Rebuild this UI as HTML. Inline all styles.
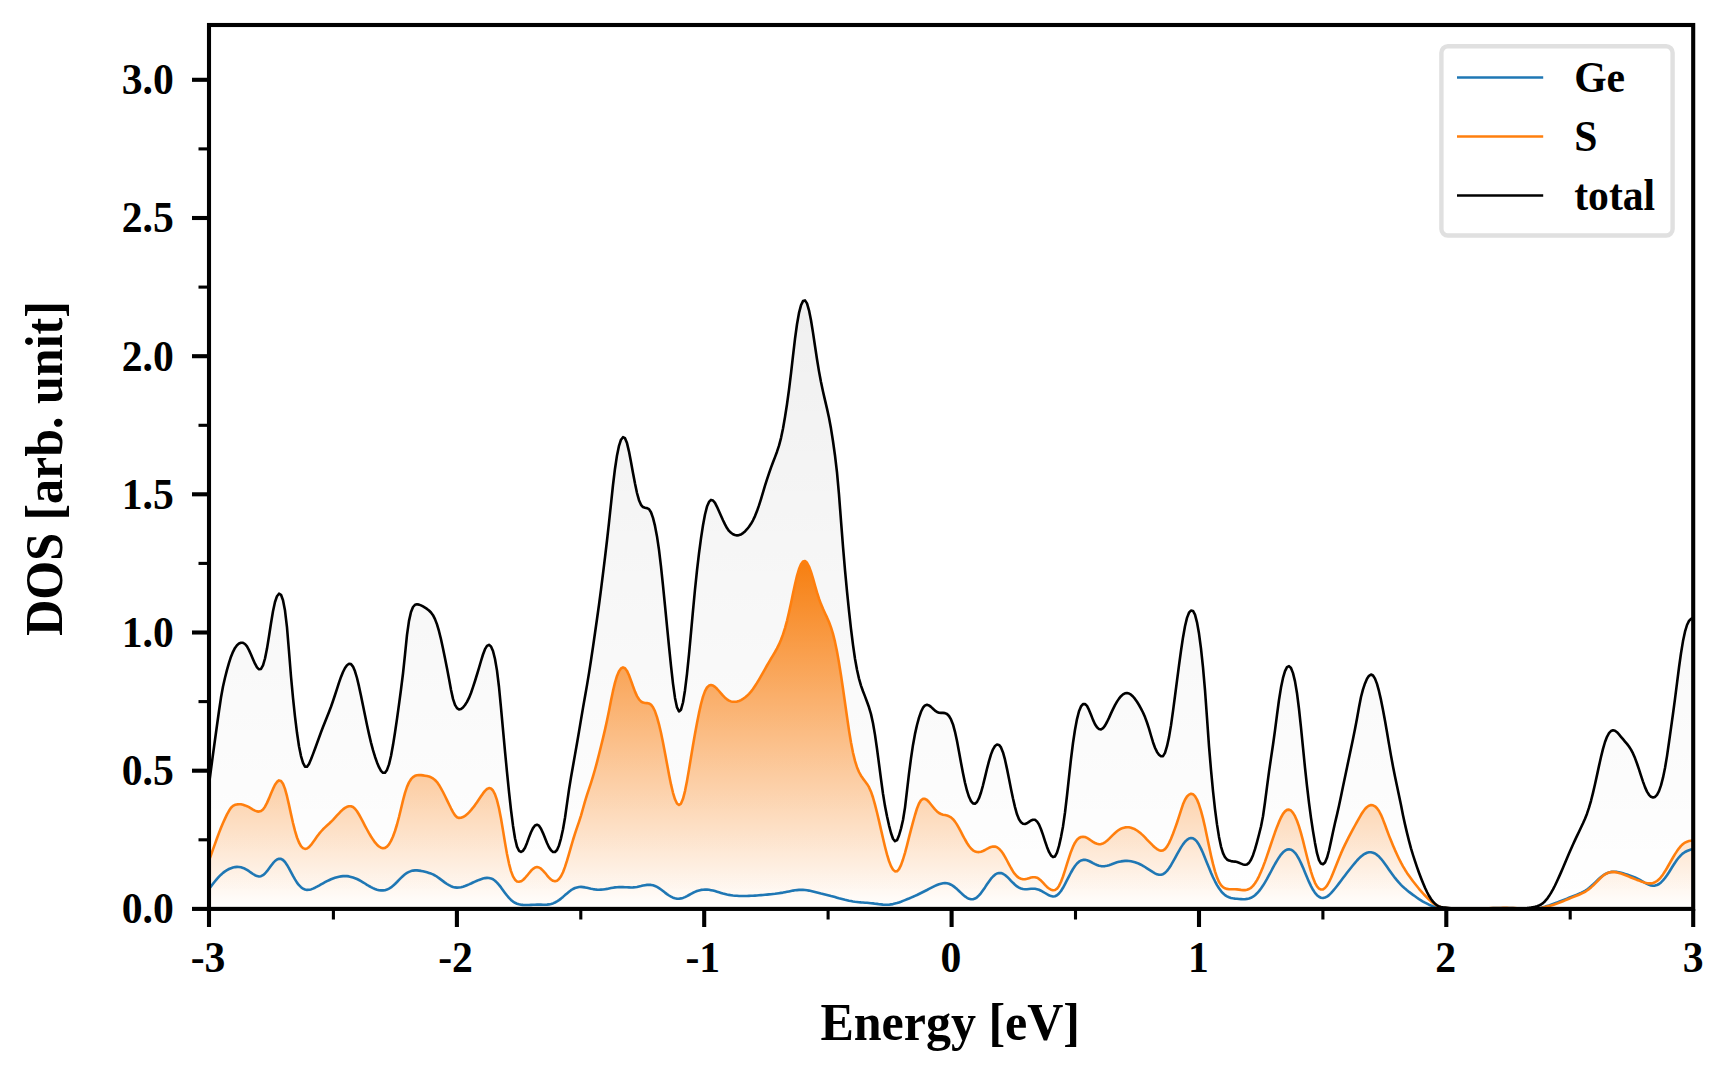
<!DOCTYPE html>
<html lang="en"><head><meta charset="utf-8"><title>DOS</title>
<style>html,body{margin:0;padding:0;background:#fff;overflow:hidden}svg{display:block}</style></head>
<body>
<svg width="1728" height="1080" viewBox="0 0 1728 1080">
<defs>
<linearGradient id="gt" gradientUnits="userSpaceOnUse" x1="0" y1="300" x2="0" y2="909"><stop offset="0" stop-color="#000" stop-opacity="0.06"/><stop offset="1" stop-color="#000" stop-opacity="0"/></linearGradient>
<linearGradient id="gs" gradientUnits="userSpaceOnUse" x1="0" y1="561" x2="0" y2="909"><stop offset="0" stop-color="#f77f10" stop-opacity="1"/><stop offset="1" stop-color="#ff7f0e" stop-opacity="0"/></linearGradient>
<clipPath id="ax"><rect x="209" y="25" width="1484.2" height="883.9"/></clipPath>
</defs>
<rect width="1728" height="1080" fill="#fff"/>
<g clip-path="url(#ax)">
<path d="M209.0,784.4 L211.0,769.4 L213.0,754.4 L215.0,739.8 L217.0,725.3 L219.0,711.0 L221.0,697.6 L223.0,686.5 L225.0,677.7 L227.0,669.9 L229.0,662.8 L231.0,656.7 L233.0,651.8 L235.0,647.9 L237.0,645.2 L239.0,643.5 L241.0,642.7 L243.0,642.8 L245.0,644.0 L247.0,646.4 L249.0,650.1 L251.0,654.5 L253.0,659.2 L255.0,663.7 L257.0,667.3 L259.0,669.3 L261.0,668.9 L263.0,665.4 L265.0,658.5 L267.0,648.6 L269.0,636.2 L271.0,623.2 L273.0,611.3 L275.0,602.0 L277.0,596.2 L279.0,593.7 L281.0,594.8 L283.0,600.2 L285.0,610.6 L287.0,627.4 L289.0,651.5 L291.0,676.5 L293.0,697.9 L295.0,716.6 L297.0,732.8 L299.0,746.2 L301.0,756.1 L303.0,762.8 L305.0,766.6 L307.0,766.8 L309.0,763.9 L311.0,759.3 L313.0,754.1 L315.0,748.7 L317.0,743.2 L319.0,737.7 L321.0,732.2 L323.0,727.0 L325.0,722.0 L327.0,717.1 L329.0,712.0 L331.0,706.7 L333.0,701.0 L335.0,695.0 L337.0,688.8 L339.0,682.6 L341.0,676.9 L343.0,672.0 L345.0,668.0 L347.0,665.2 L349.0,663.8 L351.0,664.1 L353.0,666.6 L355.0,671.3 L357.0,678.0 L359.0,686.4 L361.0,695.8 L363.0,705.6 L365.0,715.3 L367.0,724.9 L369.0,734.1 L371.0,742.6 L373.0,750.2 L375.0,756.7 L377.0,762.4 L379.0,767.2 L381.0,770.8 L383.0,772.8 L385.0,772.7 L387.0,769.9 L389.0,764.4 L391.0,756.0 L393.0,745.1 L395.0,732.5 L397.0,718.9 L399.0,704.4 L401.0,689.5 L403.0,673.5 L405.0,654.6 L407.0,634.9 L409.0,620.9 L411.0,612.0 L413.0,607.0 L415.0,604.8 L417.0,604.3 L419.0,604.6 L421.0,605.4 L423.0,606.4 L425.0,607.6 L427.0,608.9 L429.0,610.5 L431.0,612.5 L433.0,615.2 L435.0,619.1 L437.0,624.4 L439.0,631.2 L441.0,639.3 L443.0,648.5 L445.0,658.2 L447.0,668.2 L449.0,678.8 L451.0,689.8 L453.0,698.9 L455.0,704.8 L457.0,708.1 L459.0,709.5 L461.0,709.1 L463.0,707.5 L465.0,705.0 L467.0,701.9 L469.0,697.9 L471.0,693.0 L473.0,687.2 L475.0,681.0 L477.0,674.5 L479.0,667.8 L481.0,661.0 L483.0,654.5 L485.0,649.2 L487.0,645.9 L489.0,644.8 L491.0,646.4 L493.0,651.0 L495.0,659.0 L497.0,670.6 L499.0,687.0 L501.0,707.9 L503.0,729.7 L505.0,751.3 L507.0,772.1 L509.0,791.8 L511.0,810.0 L513.0,825.7 L515.0,838.2 L517.0,846.6 L519.0,850.8 L521.0,851.9 L523.0,850.8 L525.0,847.7 L527.0,842.9 L529.0,837.4 L531.0,832.2 L533.0,828.1 L535.0,825.5 L537.0,824.7 L539.0,825.7 L541.0,828.7 L543.0,833.1 L545.0,838.1 L547.0,843.0 L549.0,847.2 L551.0,850.3 L553.0,851.9 L555.0,852.0 L557.0,850.0 L559.0,845.4 L561.0,838.3 L563.0,829.2 L565.0,817.7 L567.0,803.6 L569.0,789.6 L571.0,777.4 L573.0,766.0 L575.0,754.6 L577.0,743.2 L579.0,731.6 L581.0,719.6 L583.0,707.9 L585.0,696.5 L587.0,685.1 L589.0,673.1 L591.0,660.3 L593.0,646.9 L595.0,633.0 L597.0,619.0 L599.0,604.7 L601.0,589.6 L603.0,573.7 L605.0,557.3 L607.0,540.5 L609.0,522.7 L611.0,503.8 L613.0,485.0 L615.0,468.7 L617.0,455.4 L619.0,445.8 L621.0,439.7 L623.0,437.2 L625.0,438.2 L627.0,443.1 L629.0,451.6 L631.0,462.0 L633.0,473.0 L635.0,483.6 L637.0,493.0 L639.0,500.2 L641.0,504.8 L643.0,507.1 L645.0,507.8 L647.0,508.1 L649.0,509.1 L651.0,512.2 L653.0,517.9 L655.0,525.9 L657.0,536.4 L659.0,549.9 L661.0,566.7 L663.0,585.6 L665.0,605.6 L667.0,626.1 L669.0,646.3 L671.0,665.9 L673.0,683.6 L675.0,697.9 L677.0,707.4 L679.0,711.4 L681.0,709.7 L683.0,702.5 L685.0,690.2 L687.0,673.9 L689.0,654.4 L691.0,632.7 L693.0,610.6 L695.0,589.5 L697.0,570.3 L699.0,553.3 L701.0,538.3 L703.0,525.2 L705.0,514.5 L707.0,506.6 L709.0,501.9 L711.0,499.9 L713.0,500.5 L715.0,502.9 L717.0,506.8 L719.0,511.2 L721.0,515.7 L723.0,520.2 L725.0,524.4 L727.0,528.1 L729.0,530.9 L731.0,532.8 L733.0,534.2 L735.0,535.0 L737.0,535.4 L739.0,535.1 L741.0,534.4 L743.0,533.1 L745.0,531.4 L747.0,529.2 L749.0,526.7 L751.0,523.8 L753.0,520.3 L755.0,516.1 L757.0,511.1 L759.0,505.4 L761.0,499.1 L763.0,492.4 L765.0,485.7 L767.0,479.3 L769.0,473.3 L771.0,467.6 L773.0,462.3 L775.0,457.1 L777.0,451.7 L779.0,445.7 L781.0,438.1 L783.0,428.4 L785.0,417.1 L787.0,404.3 L789.0,389.8 L791.0,373.4 L793.0,355.9 L795.0,338.9 L797.0,324.2 L799.0,312.9 L801.0,305.3 L803.0,301.1 L805.0,300.4 L807.0,303.4 L809.0,310.3 L811.0,320.3 L813.0,332.6 L815.0,346.0 L817.0,359.3 L819.0,371.4 L821.0,382.1 L823.0,391.5 L825.0,400.1 L827.0,408.6 L829.0,417.8 L831.0,428.6 L833.0,441.2 L835.0,455.5 L837.0,472.4 L839.0,494.6 L841.0,520.8 L843.0,546.6 L845.0,570.1 L847.0,591.3 L849.0,610.9 L851.0,628.9 L853.0,644.9 L855.0,658.7 L857.0,669.8 L859.0,678.6 L861.0,685.6 L863.0,691.3 L865.0,696.4 L867.0,701.7 L869.0,707.3 L871.0,714.1 L873.0,723.2 L875.0,734.9 L877.0,748.7 L879.0,763.8 L881.0,779.2 L883.0,793.8 L885.0,806.1 L887.0,816.3 L889.0,825.3 L891.0,833.0 L893.0,838.7 L895.0,841.2 L897.0,840.2 L899.0,835.5 L901.0,828.6 L903.0,820.0 L905.0,807.6 L907.0,790.7 L909.0,773.7 L911.0,758.3 L913.0,744.9 L915.0,733.9 L917.0,725.0 L919.0,717.7 L921.0,711.8 L923.0,707.7 L925.0,705.4 L927.0,704.8 L929.0,705.4 L931.0,706.9 L933.0,708.7 L935.0,710.6 L937.0,712.0 L939.0,712.7 L941.0,712.9 L943.0,712.9 L945.0,713.1 L947.0,714.0 L949.0,716.0 L951.0,719.4 L953.0,724.4 L955.0,731.8 L957.0,741.1 L959.0,751.7 L961.0,762.7 L963.0,773.3 L965.0,782.8 L967.0,790.7 L969.0,796.8 L971.0,801.1 L973.0,803.4 L975.0,803.7 L977.0,802.0 L979.0,798.2 L981.0,792.5 L983.0,785.3 L985.0,777.1 L987.0,768.8 L989.0,761.1 L991.0,754.4 L993.0,749.3 L995.0,746.0 L997.0,744.5 L999.0,744.9 L1001.0,747.4 L1003.0,752.4 L1005.0,759.7 L1007.0,768.9 L1009.0,778.8 L1011.0,788.9 L1013.0,798.5 L1015.0,807.1 L1017.0,814.3 L1019.0,819.3 L1021.0,822.3 L1023.0,823.8 L1025.0,824.0 L1027.0,823.3 L1029.0,821.9 L1031.0,820.5 L1033.0,819.7 L1035.0,819.8 L1037.0,821.4 L1039.0,824.5 L1041.0,829.2 L1043.0,834.9 L1045.0,841.1 L1047.0,846.9 L1049.0,851.9 L1051.0,855.4 L1053.0,857.1 L1055.0,856.4 L1057.0,852.6 L1059.0,845.9 L1061.0,837.1 L1063.0,826.4 L1065.0,812.5 L1067.0,795.5 L1069.0,777.1 L1071.0,759.0 L1073.0,743.0 L1075.0,729.7 L1077.0,719.1 L1079.0,711.3 L1081.0,706.4 L1083.0,704.1 L1085.0,704.0 L1087.0,705.9 L1089.0,709.9 L1091.0,714.8 L1093.0,719.9 L1095.0,724.2 L1097.0,727.3 L1099.0,729.1 L1101.0,729.5 L1103.0,728.2 L1105.0,725.6 L1107.0,722.0 L1109.0,717.9 L1111.0,713.4 L1113.0,709.1 L1115.0,705.1 L1117.0,701.6 L1119.0,698.6 L1121.0,696.2 L1123.0,694.4 L1125.0,693.3 L1127.0,693.0 L1129.0,693.5 L1131.0,694.7 L1133.0,696.5 L1135.0,698.9 L1137.0,701.8 L1139.0,705.0 L1141.0,708.6 L1143.0,712.5 L1145.0,717.1 L1147.0,722.5 L1149.0,728.7 L1151.0,735.5 L1153.0,742.2 L1155.0,747.7 L1157.0,751.9 L1159.0,754.7 L1161.0,756.3 L1163.0,756.1 L1165.0,752.9 L1167.0,746.2 L1169.0,737.1 L1171.0,725.4 L1173.0,711.1 L1175.0,696.0 L1177.0,680.7 L1179.0,665.3 L1181.0,650.7 L1183.0,637.4 L1185.0,626.3 L1187.0,617.9 L1189.0,612.7 L1191.0,610.5 L1193.0,610.9 L1195.0,614.6 L1197.0,622.3 L1199.0,633.6 L1201.0,648.6 L1203.0,667.3 L1205.0,690.1 L1207.0,717.8 L1209.0,746.1 L1211.0,769.9 L1213.0,791.0 L1215.0,809.2 L1217.0,824.4 L1219.0,836.9 L1221.0,846.6 L1223.0,853.1 L1225.0,857.2 L1227.0,859.5 L1229.0,860.6 L1231.0,861.1 L1233.0,861.4 L1235.0,861.6 L1237.0,862.1 L1239.0,862.8 L1241.0,863.6 L1243.0,864.4 L1245.0,864.8 L1247.0,864.4 L1249.0,862.9 L1251.0,859.8 L1253.0,855.2 L1255.0,849.2 L1257.0,842.1 L1259.0,834.5 L1261.0,826.5 L1263.0,816.2 L1265.0,802.3 L1267.0,786.8 L1269.0,771.9 L1271.0,758.1 L1273.0,744.7 L1275.0,730.4 L1277.0,714.8 L1279.0,700.0 L1281.0,687.6 L1283.0,677.9 L1285.0,671.1 L1287.0,667.1 L1289.0,666.1 L1291.0,668.0 L1293.0,673.1 L1295.0,681.4 L1297.0,693.2 L1299.0,709.0 L1301.0,727.6 L1303.0,747.7 L1305.0,767.6 L1307.0,786.0 L1309.0,802.8 L1311.0,817.8 L1313.0,831.1 L1315.0,842.9 L1317.0,853.2 L1319.0,860.2 L1321.0,863.6 L1323.0,864.3 L1325.0,862.5 L1327.0,857.8 L1329.0,850.5 L1331.0,841.4 L1333.0,831.9 L1335.0,823.0 L1337.0,814.6 L1339.0,805.7 L1341.0,796.2 L1343.0,786.6 L1345.0,777.0 L1347.0,767.4 L1349.0,757.9 L1351.0,748.4 L1353.0,738.9 L1355.0,729.1 L1357.0,718.6 L1359.0,707.2 L1361.0,697.0 L1363.0,689.3 L1365.0,683.4 L1367.0,678.8 L1369.0,675.8 L1371.0,674.5 L1373.0,675.5 L1375.0,678.6 L1377.0,683.9 L1379.0,691.2 L1381.0,699.9 L1383.0,709.9 L1385.0,720.8 L1387.0,732.3 L1389.0,744.1 L1391.0,755.6 L1393.0,766.4 L1395.0,776.4 L1397.0,786.0 L1399.0,795.4 L1401.0,805.1 L1403.0,815.2 L1405.0,824.4 L1407.0,832.9 L1409.0,840.9 L1411.0,848.3 L1413.0,855.0 L1415.0,861.2 L1417.0,867.1 L1419.0,872.7 L1421.0,878.0 L1423.0,883.0 L1425.0,887.7 L1427.0,892.0 L1429.0,895.8 L1431.0,899.0 L1433.0,901.6 L1435.0,903.7 L1437.0,905.3 L1439.0,906.4 L1441.0,907.1 L1443.0,907.4 L1445.0,907.6 L1447.0,907.8 L1449.0,908.0 L1451.0,908.2 L1453.0,908.3 L1455.0,908.4 L1457.0,908.4 L1459.0,908.4 L1461.0,908.4 L1463.0,908.4 L1465.0,908.4 L1467.0,908.4 L1469.0,908.4 L1471.0,908.4 L1473.0,908.4 L1475.0,908.4 L1477.0,908.4 L1479.0,908.4 L1481.0,908.4 L1483.0,908.3 L1485.0,908.3 L1487.0,908.3 L1489.0,908.2 L1491.0,908.2 L1493.0,908.2 L1495.0,908.2 L1497.0,908.2 L1499.0,908.2 L1501.0,908.3 L1503.0,908.3 L1505.0,908.3 L1507.0,908.3 L1509.0,908.3 L1511.0,908.3 L1513.0,908.3 L1515.0,908.3 L1517.0,908.3 L1519.0,908.3 L1521.0,908.3 L1523.0,908.3 L1525.0,908.2 L1527.0,908.1 L1529.0,907.9 L1531.0,907.6 L1533.0,907.2 L1535.0,906.8 L1537.0,906.3 L1539.0,905.6 L1541.0,904.5 L1543.0,903.1 L1545.0,901.2 L1547.0,898.9 L1549.0,896.1 L1551.0,892.9 L1553.0,889.4 L1555.0,885.5 L1557.0,881.3 L1559.0,876.9 L1561.0,872.4 L1563.0,867.8 L1565.0,863.0 L1567.0,858.3 L1569.0,853.5 L1571.0,848.9 L1573.0,844.5 L1575.0,840.1 L1577.0,835.9 L1579.0,831.7 L1581.0,827.5 L1583.0,823.3 L1585.0,818.8 L1587.0,813.7 L1589.0,807.7 L1591.0,800.8 L1593.0,792.9 L1595.0,784.2 L1597.0,775.1 L1599.0,765.9 L1601.0,757.0 L1603.0,748.9 L1605.0,742.0 L1607.0,736.8 L1609.0,733.2 L1611.0,731.0 L1613.0,730.2 L1615.0,730.7 L1617.0,732.2 L1619.0,734.4 L1621.0,736.8 L1623.0,739.2 L1625.0,741.6 L1627.0,743.9 L1629.0,746.5 L1631.0,749.6 L1633.0,753.4 L1635.0,758.1 L1637.0,763.5 L1639.0,769.4 L1641.0,775.6 L1643.0,781.6 L1645.0,787.1 L1647.0,791.6 L1649.0,794.8 L1651.0,796.8 L1653.0,797.5 L1655.0,796.9 L1657.0,794.8 L1659.0,791.1 L1661.0,785.4 L1663.0,777.7 L1665.0,768.0 L1667.0,756.1 L1669.0,742.3 L1671.0,728.1 L1673.0,713.7 L1675.0,698.8 L1677.0,683.1 L1679.0,667.5 L1681.0,653.3 L1683.0,641.1 L1685.0,631.7 L1687.0,625.0 L1689.0,620.9 L1691.0,618.9 L1693.0,618.0 L1693.0,908.7 L209.0,908.7 Z" fill="url(#gt)"/>
<path d="M209.0,860.5 L211.0,855.0 L213.0,849.4 L215.0,843.9 L217.0,838.3 L219.0,832.9 L221.0,827.8 L223.0,823.0 L225.0,818.6 L227.0,814.4 L229.0,810.8 L231.0,807.8 L233.0,805.9 L235.0,804.8 L237.0,804.4 L239.0,804.2 L241.0,804.3 L243.0,804.7 L245.0,805.4 L247.0,806.2 L249.0,807.2 L251.0,808.4 L253.0,809.6 L255.0,810.6 L257.0,811.4 L259.0,811.6 L261.0,811.0 L263.0,809.4 L265.0,806.7 L267.0,802.9 L269.0,798.4 L271.0,793.5 L273.0,788.9 L275.0,784.8 L277.0,781.9 L279.0,780.4 L281.0,780.9 L283.0,783.7 L285.0,788.9 L287.0,796.2 L289.0,804.9 L291.0,814.1 L293.0,823.0 L295.0,830.9 L297.0,837.5 L299.0,842.5 L301.0,846.1 L303.0,848.1 L305.0,848.9 L307.0,848.5 L309.0,847.1 L311.0,844.9 L313.0,842.2 L315.0,839.4 L317.0,836.6 L319.0,833.9 L321.0,831.5 L323.0,829.3 L325.0,827.4 L327.0,825.5 L329.0,823.7 L331.0,821.8 L333.0,819.8 L335.0,817.6 L337.0,815.4 L339.0,813.3 L341.0,811.2 L343.0,809.4 L345.0,807.9 L347.0,806.8 L349.0,806.2 L351.0,806.2 L353.0,807.0 L355.0,808.7 L357.0,811.3 L359.0,814.5 L361.0,818.1 L363.0,821.9 L365.0,825.8 L367.0,829.5 L369.0,833.1 L371.0,836.5 L373.0,839.6 L375.0,842.4 L377.0,844.7 L379.0,846.5 L381.0,847.7 L383.0,848.2 L385.0,847.9 L387.0,846.6 L389.0,844.3 L391.0,840.9 L393.0,836.5 L395.0,831.0 L397.0,824.5 L399.0,817.0 L401.0,808.7 L403.0,800.4 L405.0,792.9 L407.0,786.9 L409.0,782.4 L411.0,779.2 L413.0,777.1 L415.0,775.8 L417.0,775.2 L419.0,775.0 L421.0,775.1 L423.0,775.4 L425.0,775.7 L427.0,776.1 L429.0,776.6 L431.0,777.3 L433.0,778.4 L435.0,780.0 L437.0,782.1 L439.0,784.9 L441.0,788.3 L443.0,792.0 L445.0,796.0 L447.0,800.1 L449.0,804.2 L451.0,808.3 L453.0,812.1 L455.0,815.3 L457.0,817.2 L459.0,817.9 L461.0,817.8 L463.0,817.1 L465.0,815.9 L467.0,814.3 L469.0,812.3 L471.0,810.1 L473.0,807.7 L475.0,805.1 L477.0,802.3 L479.0,799.3 L481.0,796.3 L483.0,793.4 L485.0,790.9 L487.0,789.0 L489.0,788.1 L491.0,788.5 L493.0,790.5 L495.0,794.3 L497.0,800.2 L499.0,808.2 L501.0,818.5 L503.0,830.4 L505.0,842.6 L507.0,853.9 L509.0,863.6 L511.0,871.1 L513.0,876.4 L515.0,879.7 L517.0,881.4 L519.0,881.8 L521.0,881.3 L523.0,880.0 L525.0,878.0 L527.0,875.7 L529.0,873.2 L531.0,870.8 L533.0,868.9 L535.0,867.6 L537.0,867.1 L539.0,867.5 L541.0,868.7 L543.0,870.6 L545.0,872.8 L547.0,875.3 L549.0,877.6 L551.0,879.5 L553.0,880.8 L555.0,881.3 L557.0,880.8 L559.0,879.1 L561.0,876.3 L563.0,872.2 L565.0,866.9 L567.0,860.7 L569.0,853.9 L571.0,846.9 L573.0,840.0 L575.0,833.7 L577.0,827.7 L579.0,821.8 L581.0,815.6 L583.0,808.5 L585.0,801.4 L587.0,794.9 L589.0,788.8 L591.0,782.8 L593.0,776.4 L595.0,769.5 L597.0,762.1 L599.0,754.3 L601.0,746.3 L603.0,738.1 L605.0,729.6 L607.0,720.5 L609.0,710.7 L611.0,700.5 L613.0,690.9 L615.0,682.6 L617.0,675.9 L619.0,671.2 L621.0,668.4 L623.0,667.4 L625.0,668.2 L627.0,670.9 L629.0,675.2 L631.0,680.6 L633.0,686.3 L635.0,691.6 L637.0,696.1 L639.0,699.3 L641.0,701.5 L643.0,702.6 L645.0,703.0 L647.0,703.1 L649.0,703.5 L651.0,704.6 L653.0,707.2 L655.0,711.3 L657.0,717.1 L659.0,724.3 L661.0,732.7 L663.0,742.4 L665.0,752.9 L667.0,763.8 L669.0,774.5 L671.0,784.4 L673.0,792.8 L675.0,799.3 L677.0,803.5 L679.0,805.0 L681.0,803.6 L683.0,798.8 L685.0,791.1 L687.0,780.9 L689.0,769.4 L691.0,757.3 L693.0,745.3 L695.0,733.8 L697.0,723.0 L699.0,712.9 L701.0,704.0 L703.0,696.6 L705.0,691.1 L707.0,687.5 L709.0,685.6 L711.0,685.1 L713.0,685.6 L715.0,686.9 L717.0,688.8 L719.0,691.0 L721.0,693.4 L723.0,695.7 L725.0,697.7 L727.0,699.3 L729.0,700.6 L731.0,701.4 L733.0,701.8 L735.0,701.8 L737.0,701.6 L739.0,701.0 L741.0,700.1 L743.0,698.9 L745.0,697.5 L747.0,695.8 L749.0,693.8 L751.0,691.6 L753.0,689.0 L755.0,686.0 L757.0,682.9 L759.0,679.6 L761.0,676.2 L763.0,672.7 L765.0,669.1 L767.0,665.5 L769.0,662.1 L771.0,658.7 L773.0,655.4 L775.0,652.0 L777.0,648.4 L779.0,644.4 L781.0,639.8 L783.0,634.4 L785.0,628.1 L787.0,620.8 L789.0,612.4 L791.0,603.2 L793.0,593.5 L795.0,584.2 L797.0,575.9 L799.0,569.1 L801.0,564.3 L803.0,561.5 L805.0,561.0 L807.0,562.8 L809.0,566.5 L811.0,571.9 L813.0,578.4 L815.0,585.5 L817.0,592.4 L819.0,598.7 L821.0,604.1 L823.0,608.8 L825.0,613.2 L827.0,617.4 L829.0,622.0 L831.0,627.4 L833.0,633.9 L835.0,641.9 L837.0,651.5 L839.0,662.7 L841.0,675.2 L843.0,688.7 L845.0,702.7 L847.0,716.8 L849.0,730.4 L851.0,742.5 L853.0,752.8 L855.0,760.9 L857.0,767.2 L859.0,772.0 L861.0,775.7 L863.0,778.6 L865.0,781.2 L867.0,783.9 L869.0,787.2 L871.0,791.7 L873.0,797.5 L875.0,804.6 L877.0,812.5 L879.0,820.9 L881.0,829.6 L883.0,838.3 L885.0,846.7 L887.0,854.4 L889.0,861.0 L891.0,866.1 L893.0,869.6 L895.0,871.4 L897.0,871.3 L899.0,869.1 L901.0,865.1 L903.0,859.5 L905.0,852.8 L907.0,845.3 L909.0,837.4 L911.0,829.7 L913.0,822.2 L915.0,815.0 L917.0,808.5 L919.0,803.5 L921.0,800.3 L923.0,798.9 L925.0,798.9 L927.0,800.0 L929.0,802.0 L931.0,804.5 L933.0,807.0 L935.0,809.4 L937.0,811.4 L939.0,813.0 L941.0,814.0 L943.0,814.7 L945.0,815.1 L947.0,815.6 L949.0,816.3 L951.0,817.4 L953.0,819.2 L955.0,821.6 L957.0,824.6 L959.0,828.1 L961.0,831.9 L963.0,835.8 L965.0,839.5 L967.0,843.0 L969.0,846.0 L971.0,848.5 L973.0,850.3 L975.0,851.5 L977.0,852.0 L979.0,852.1 L981.0,851.7 L983.0,851.0 L985.0,850.0 L987.0,848.8 L989.0,847.8 L991.0,847.0 L993.0,846.5 L995.0,846.6 L997.0,847.3 L999.0,848.7 L1001.0,850.8 L1003.0,853.5 L1005.0,856.8 L1007.0,860.5 L1009.0,864.3 L1011.0,868.0 L1013.0,871.4 L1015.0,874.2 L1017.0,876.4 L1019.0,877.9 L1021.0,878.8 L1023.0,879.2 L1025.0,879.2 L1027.0,878.8 L1029.0,878.2 L1031.0,877.6 L1033.0,877.2 L1035.0,877.2 L1037.0,877.7 L1039.0,878.9 L1041.0,880.6 L1043.0,882.7 L1045.0,884.9 L1047.0,886.9 L1049.0,888.5 L1051.0,889.7 L1053.0,890.3 L1055.0,890.0 L1057.0,888.7 L1059.0,885.9 L1061.0,881.8 L1063.0,876.5 L1065.0,870.4 L1067.0,863.9 L1069.0,857.6 L1071.0,851.7 L1073.0,846.7 L1075.0,842.7 L1077.0,839.8 L1079.0,838.0 L1081.0,837.0 L1083.0,836.7 L1085.0,837.0 L1087.0,837.9 L1089.0,839.1 L1091.0,840.5 L1093.0,841.9 L1095.0,843.0 L1097.0,843.8 L1099.0,844.2 L1101.0,844.1 L1103.0,843.4 L1105.0,842.3 L1107.0,840.8 L1109.0,838.9 L1111.0,836.9 L1113.0,834.9 L1115.0,833.0 L1117.0,831.3 L1119.0,829.8 L1121.0,828.7 L1123.0,827.9 L1125.0,827.4 L1127.0,827.2 L1129.0,827.3 L1131.0,827.7 L1133.0,828.4 L1135.0,829.3 L1137.0,830.5 L1139.0,832.0 L1141.0,833.6 L1143.0,835.4 L1145.0,837.4 L1147.0,839.6 L1149.0,841.7 L1151.0,843.7 L1153.0,845.7 L1155.0,847.5 L1157.0,849.1 L1159.0,850.2 L1161.0,850.7 L1163.0,850.4 L1165.0,849.1 L1167.0,846.6 L1169.0,843.1 L1171.0,838.8 L1173.0,833.8 L1175.0,828.4 L1177.0,822.7 L1179.0,816.7 L1181.0,810.3 L1183.0,804.3 L1185.0,799.7 L1187.0,796.5 L1189.0,794.6 L1191.0,793.8 L1193.0,794.3 L1195.0,796.1 L1197.0,799.6 L1199.0,804.6 L1201.0,810.9 L1203.0,818.4 L1205.0,827.0 L1207.0,836.4 L1209.0,846.0 L1211.0,855.4 L1213.0,863.9 L1215.0,871.3 L1217.0,877.3 L1219.0,881.9 L1221.0,885.1 L1223.0,887.2 L1225.0,888.3 L1227.0,888.9 L1229.0,889.2 L1231.0,889.2 L1233.0,889.2 L1235.0,889.2 L1237.0,889.4 L1239.0,889.6 L1241.0,889.9 L1243.0,890.1 L1245.0,890.1 L1247.0,889.8 L1249.0,889.0 L1251.0,887.8 L1253.0,885.9 L1255.0,883.3 L1257.0,880.1 L1259.0,876.3 L1261.0,871.8 L1263.0,866.9 L1265.0,861.6 L1267.0,855.9 L1269.0,850.0 L1271.0,844.0 L1273.0,838.1 L1275.0,832.3 L1277.0,826.9 L1279.0,821.9 L1281.0,817.5 L1283.0,813.9 L1285.0,811.4 L1287.0,809.9 L1289.0,809.6 L1291.0,810.5 L1293.0,812.8 L1295.0,816.2 L1297.0,820.7 L1299.0,826.4 L1301.0,833.2 L1303.0,840.7 L1305.0,848.7 L1307.0,856.7 L1309.0,864.5 L1311.0,871.6 L1313.0,877.8 L1315.0,882.8 L1317.0,886.4 L1319.0,888.6 L1321.0,889.5 L1323.0,889.4 L1325.0,888.0 L1327.0,885.6 L1329.0,882.2 L1331.0,878.0 L1333.0,873.3 L1335.0,868.3 L1337.0,863.3 L1339.0,858.3 L1341.0,853.4 L1343.0,848.9 L1345.0,844.6 L1347.0,840.6 L1349.0,836.7 L1351.0,832.9 L1353.0,829.2 L1355.0,825.5 L1357.0,821.8 L1359.0,818.3 L1361.0,814.8 L1363.0,811.7 L1365.0,809.0 L1367.0,807.0 L1369.0,805.7 L1371.0,805.1 L1373.0,805.3 L1375.0,806.3 L1377.0,808.2 L1379.0,811.0 L1381.0,814.8 L1383.0,819.6 L1385.0,824.8 L1387.0,830.3 L1389.0,835.6 L1391.0,840.6 L1393.0,845.4 L1395.0,850.1 L1397.0,854.5 L1399.0,858.7 L1401.0,862.7 L1403.0,866.3 L1405.0,869.7 L1407.0,872.9 L1409.0,875.8 L1411.0,878.6 L1413.0,881.3 L1415.0,883.8 L1417.0,886.3 L1419.0,888.8 L1421.0,891.1 L1423.0,893.4 L1425.0,895.5 L1427.0,897.6 L1429.0,899.6 L1431.0,901.4 L1433.0,903.1 L1435.0,904.5 L1437.0,905.7 L1439.0,906.6 L1441.0,907.3 L1443.0,907.7 L1445.0,908.0 L1447.0,908.1 L1449.0,908.2 L1451.0,908.2 L1453.0,908.2 L1455.0,908.3 L1457.0,908.3 L1459.0,908.3 L1461.0,908.3 L1463.0,908.3 L1465.0,908.4 L1467.0,908.4 L1469.0,908.4 L1471.0,908.4 L1473.0,908.4 L1475.0,908.4 L1477.0,908.4 L1479.0,908.4 L1481.0,908.3 L1483.0,908.3 L1485.0,908.3 L1487.0,908.2 L1489.0,908.2 L1491.0,908.1 L1493.0,908.1 L1495.0,908.1 L1497.0,908.0 L1499.0,908.0 L1501.0,908.0 L1503.0,907.9 L1505.0,907.9 L1507.0,907.9 L1509.0,908.0 L1511.0,908.0 L1513.0,908.0 L1515.0,908.1 L1517.0,908.2 L1519.0,908.3 L1521.0,908.4 L1523.0,908.4 L1525.0,908.4 L1527.0,908.4 L1529.0,908.4 L1531.0,908.4 L1533.0,908.4 L1535.0,908.4 L1537.0,908.4 L1539.0,908.4 L1541.0,908.1 L1543.0,907.6 L1545.0,907.0 L1547.0,906.5 L1549.0,906.0 L1551.0,905.5 L1553.0,904.9 L1555.0,904.3 L1557.0,903.6 L1559.0,902.8 L1561.0,902.0 L1563.0,901.2 L1565.0,900.4 L1567.0,899.5 L1569.0,898.7 L1571.0,897.9 L1573.0,897.1 L1575.0,896.3 L1577.0,895.5 L1579.0,894.7 L1581.0,893.8 L1583.0,892.9 L1585.0,891.8 L1587.0,890.5 L1589.0,889.1 L1591.0,887.4 L1593.0,885.6 L1595.0,883.6 L1597.0,881.6 L1599.0,879.5 L1601.0,877.6 L1603.0,875.8 L1605.0,874.4 L1607.0,873.3 L1609.0,872.5 L1611.0,872.1 L1613.0,871.9 L1615.0,872.1 L1617.0,872.4 L1619.0,872.9 L1621.0,873.6 L1623.0,874.3 L1625.0,875.0 L1627.0,875.8 L1629.0,876.6 L1631.0,877.5 L1633.0,878.3 L1635.0,879.1 L1637.0,879.9 L1639.0,880.6 L1641.0,881.4 L1643.0,882.1 L1645.0,882.7 L1647.0,883.1 L1649.0,883.4 L1651.0,883.4 L1653.0,883.0 L1655.0,882.2 L1657.0,881.0 L1659.0,879.3 L1661.0,877.1 L1663.0,874.4 L1665.0,871.3 L1667.0,868.0 L1669.0,864.5 L1671.0,861.0 L1673.0,857.5 L1675.0,854.1 L1677.0,851.1 L1679.0,848.3 L1681.0,845.9 L1683.0,844.0 L1685.0,842.6 L1687.0,841.7 L1689.0,841.1 L1691.0,840.7 L1693.0,840.3 L1693.0,908.7 L209.0,908.7 Z" fill="url(#gs)"/>
<path d="M209.0,888.9 L211.0,886.4 L213.0,883.8 L215.0,881.3 L217.0,878.9 L219.0,876.7 L221.0,874.7 L223.0,872.9 L225.0,871.4 L227.0,870.1 L229.0,869.0 L231.0,868.2 L233.0,867.5 L235.0,867.1 L237.0,866.9 L239.0,867.0 L241.0,867.3 L243.0,867.9 L245.0,868.8 L247.0,869.9 L249.0,871.2 L251.0,872.6 L253.0,874.0 L255.0,875.2 L257.0,876.1 L259.0,876.5 L261.0,876.2 L263.0,875.2 L265.0,873.5 L267.0,871.2 L269.0,868.5 L271.0,865.8 L273.0,863.2 L275.0,861.0 L277.0,859.5 L279.0,858.7 L281.0,858.9 L283.0,860.0 L285.0,862.0 L287.0,864.9 L289.0,868.3 L291.0,872.1 L293.0,875.9 L295.0,879.4 L297.0,882.6 L299.0,885.2 L301.0,887.2 L303.0,888.6 L305.0,889.5 L307.0,889.9 L309.0,889.8 L311.0,889.4 L313.0,888.6 L315.0,887.7 L317.0,886.7 L319.0,885.6 L321.0,884.4 L323.0,883.3 L325.0,882.2 L327.0,881.1 L329.0,880.2 L331.0,879.3 L333.0,878.5 L335.0,877.8 L337.0,877.2 L339.0,876.7 L341.0,876.4 L343.0,876.1 L345.0,876.1 L347.0,876.1 L349.0,876.4 L351.0,876.9 L353.0,877.5 L355.0,878.2 L357.0,879.0 L359.0,880.0 L361.0,881.1 L363.0,882.3 L365.0,883.5 L367.0,884.8 L369.0,886.0 L371.0,887.1 L373.0,888.1 L375.0,889.0 L377.0,889.7 L379.0,890.2 L381.0,890.4 L383.0,890.4 L385.0,890.2 L387.0,889.6 L389.0,888.6 L391.0,887.4 L393.0,885.8 L395.0,884.0 L397.0,882.0 L399.0,879.9 L401.0,877.9 L403.0,876.0 L405.0,874.3 L407.0,872.9 L409.0,871.9 L411.0,871.1 L413.0,870.6 L415.0,870.4 L417.0,870.4 L419.0,870.6 L421.0,870.9 L423.0,871.3 L425.0,871.8 L427.0,872.3 L429.0,872.9 L431.0,873.6 L433.0,874.4 L435.0,875.5 L437.0,876.7 L439.0,878.1 L441.0,879.6 L443.0,881.1 L445.0,882.6 L447.0,884.0 L449.0,885.2 L451.0,886.2 L453.0,887.0 L455.0,887.4 L457.0,887.6 L459.0,887.5 L461.0,887.2 L463.0,886.7 L465.0,886.0 L467.0,885.2 L469.0,884.4 L471.0,883.5 L473.0,882.5 L475.0,881.6 L477.0,880.7 L479.0,879.9 L481.0,879.2 L483.0,878.6 L485.0,878.1 L487.0,877.9 L489.0,878.0 L491.0,878.4 L493.0,879.3 L495.0,880.7 L497.0,882.6 L499.0,884.9 L501.0,887.4 L503.0,890.2 L505.0,892.9 L507.0,895.5 L509.0,897.9 L511.0,899.9 L513.0,901.6 L515.0,902.8 L517.0,903.7 L519.0,904.3 L521.0,904.7 L523.0,904.9 L525.0,905.0 L527.0,905.0 L529.0,905.0 L531.0,904.9 L533.0,904.8 L535.0,904.7 L537.0,904.6 L539.0,904.6 L541.0,904.6 L543.0,904.7 L545.0,904.7 L547.0,904.6 L549.0,904.4 L551.0,904.0 L553.0,903.4 L555.0,902.5 L557.0,901.4 L559.0,900.1 L561.0,898.6 L563.0,896.9 L565.0,895.1 L567.0,893.4 L569.0,891.7 L571.0,890.2 L573.0,889.0 L575.0,888.0 L577.0,887.4 L579.0,887.0 L581.0,886.9 L583.0,887.1 L585.0,887.4 L587.0,887.8 L589.0,888.2 L591.0,888.7 L593.0,889.1 L595.0,889.4 L597.0,889.6 L599.0,889.7 L601.0,889.6 L603.0,889.5 L605.0,889.2 L607.0,888.9 L609.0,888.5 L611.0,888.1 L613.0,887.7 L615.0,887.4 L617.0,887.2 L619.0,887.1 L621.0,887.1 L623.0,887.1 L625.0,887.2 L627.0,887.3 L629.0,887.4 L631.0,887.5 L633.0,887.4 L635.0,887.2 L637.0,887.0 L639.0,886.5 L641.0,886.1 L643.0,885.6 L645.0,885.2 L647.0,884.9 L649.0,884.8 L651.0,884.9 L653.0,885.3 L655.0,886.0 L657.0,886.9 L659.0,888.1 L661.0,889.5 L663.0,891.0 L665.0,892.6 L667.0,894.1 L669.0,895.5 L671.0,896.7 L673.0,897.7 L675.0,898.3 L677.0,898.7 L679.0,898.7 L681.0,898.4 L683.0,897.9 L685.0,897.1 L687.0,896.1 L689.0,895.0 L691.0,893.9 L693.0,892.8 L695.0,891.9 L697.0,891.0 L699.0,890.4 L701.0,889.9 L703.0,889.7 L705.0,889.6 L707.0,889.6 L709.0,889.8 L711.0,890.2 L713.0,890.6 L715.0,891.1 L717.0,891.7 L719.0,892.3 L721.0,892.9 L723.0,893.5 L725.0,894.0 L727.0,894.5 L729.0,894.9 L731.0,895.2 L733.0,895.5 L735.0,895.7 L737.0,895.8 L739.0,896.0 L741.0,896.0 L743.0,896.0 L745.0,896.0 L747.0,896.0 L749.0,895.9 L751.0,895.8 L753.0,895.7 L755.0,895.6 L757.0,895.5 L759.0,895.3 L761.0,895.1 L763.0,895.0 L765.0,894.8 L767.0,894.6 L769.0,894.4 L771.0,894.2 L773.0,894.0 L775.0,893.8 L777.0,893.5 L779.0,893.2 L781.0,892.9 L783.0,892.6 L785.0,892.2 L787.0,891.8 L789.0,891.4 L791.0,891.0 L793.0,890.6 L795.0,890.3 L797.0,890.1 L799.0,889.9 L801.0,889.8 L803.0,889.9 L805.0,890.0 L807.0,890.3 L809.0,890.6 L811.0,891.0 L813.0,891.5 L815.0,892.0 L817.0,892.5 L819.0,893.0 L821.0,893.5 L823.0,893.9 L825.0,894.4 L827.0,894.9 L829.0,895.4 L831.0,896.0 L833.0,896.5 L835.0,897.1 L837.0,897.7 L839.0,898.3 L841.0,898.8 L843.0,899.3 L845.0,899.8 L847.0,900.2 L849.0,900.7 L851.0,901.1 L853.0,901.5 L855.0,901.8 L857.0,902.0 L859.0,902.2 L861.0,902.4 L863.0,902.5 L865.0,902.7 L867.0,902.8 L869.0,903.0 L871.0,903.2 L873.0,903.4 L875.0,903.7 L877.0,903.9 L879.0,904.2 L881.0,904.4 L883.0,904.6 L885.0,904.7 L887.0,904.7 L889.0,904.7 L891.0,904.4 L893.0,904.1 L895.0,903.6 L897.0,903.1 L899.0,902.4 L901.0,901.7 L903.0,900.9 L905.0,900.1 L907.0,899.3 L909.0,898.5 L911.0,897.6 L913.0,896.8 L915.0,895.9 L917.0,895.0 L919.0,894.0 L921.0,893.0 L923.0,892.0 L925.0,891.0 L927.0,890.0 L929.0,888.9 L931.0,887.9 L933.0,886.9 L935.0,885.9 L937.0,885.0 L939.0,884.2 L941.0,883.7 L943.0,883.3 L945.0,883.1 L947.0,883.3 L949.0,883.8 L951.0,884.7 L953.0,885.9 L955.0,887.4 L957.0,889.1 L959.0,891.0 L961.0,892.9 L963.0,894.8 L965.0,896.4 L967.0,897.8 L969.0,898.8 L971.0,899.3 L973.0,899.2 L975.0,898.6 L977.0,897.3 L979.0,895.4 L981.0,893.1 L983.0,890.3 L985.0,887.4 L987.0,884.3 L989.0,881.4 L991.0,878.7 L993.0,876.5 L995.0,874.7 L997.0,873.5 L999.0,873.0 L1001.0,873.1 L1003.0,873.8 L1005.0,875.0 L1007.0,876.7 L1009.0,878.7 L1011.0,880.8 L1013.0,882.8 L1015.0,884.7 L1017.0,886.4 L1019.0,887.6 L1021.0,888.5 L1023.0,889.0 L1025.0,889.2 L1027.0,889.2 L1029.0,889.0 L1031.0,888.8 L1033.0,888.7 L1035.0,888.8 L1037.0,889.2 L1039.0,889.8 L1041.0,890.7 L1043.0,891.8 L1045.0,893.0 L1047.0,894.2 L1049.0,895.3 L1051.0,896.1 L1053.0,896.5 L1055.0,896.2 L1057.0,895.3 L1059.0,893.5 L1061.0,891.0 L1063.0,887.8 L1065.0,884.1 L1067.0,880.2 L1069.0,876.3 L1071.0,872.5 L1073.0,869.0 L1075.0,866.0 L1077.0,863.5 L1079.0,861.7 L1081.0,860.5 L1083.0,859.9 L1085.0,859.8 L1087.0,860.2 L1089.0,861.0 L1091.0,862.0 L1093.0,863.1 L1095.0,864.1 L1097.0,865.0 L1099.0,865.7 L1101.0,866.1 L1103.0,866.2 L1105.0,866.1 L1107.0,865.7 L1109.0,865.2 L1111.0,864.5 L1113.0,863.7 L1115.0,863.0 L1117.0,862.3 L1119.0,861.8 L1121.0,861.4 L1123.0,861.1 L1125.0,860.9 L1127.0,860.9 L1129.0,861.0 L1131.0,861.3 L1133.0,861.7 L1135.0,862.2 L1137.0,862.9 L1139.0,863.8 L1141.0,864.7 L1143.0,865.8 L1145.0,867.0 L1147.0,868.3 L1149.0,869.6 L1151.0,870.9 L1153.0,872.2 L1155.0,873.3 L1157.0,874.3 L1159.0,874.8 L1161.0,874.8 L1163.0,874.2 L1165.0,872.9 L1167.0,870.9 L1169.0,868.3 L1171.0,865.2 L1173.0,861.7 L1175.0,858.1 L1177.0,854.4 L1179.0,850.8 L1181.0,847.4 L1183.0,844.4 L1185.0,841.8 L1187.0,839.9 L1189.0,838.5 L1191.0,838.0 L1193.0,838.3 L1195.0,839.6 L1197.0,841.7 L1199.0,844.8 L1201.0,848.6 L1203.0,853.0 L1205.0,857.9 L1207.0,862.9 L1209.0,867.8 L1211.0,872.7 L1213.0,877.2 L1215.0,881.3 L1217.0,885.1 L1219.0,888.3 L1221.0,891.1 L1223.0,893.3 L1225.0,895.1 L1227.0,896.4 L1229.0,897.3 L1231.0,897.9 L1233.0,898.3 L1235.0,898.6 L1237.0,898.8 L1239.0,899.0 L1241.0,899.1 L1243.0,899.2 L1245.0,899.2 L1247.0,898.9 L1249.0,898.5 L1251.0,897.8 L1253.0,896.7 L1255.0,895.2 L1257.0,893.3 L1259.0,891.1 L1261.0,888.5 L1263.0,885.6 L1265.0,882.3 L1267.0,878.9 L1269.0,875.2 L1271.0,871.5 L1273.0,867.7 L1275.0,864.0 L1277.0,860.6 L1279.0,857.4 L1281.0,854.6 L1283.0,852.3 L1285.0,850.7 L1287.0,849.6 L1289.0,849.3 L1291.0,849.7 L1293.0,850.8 L1295.0,852.8 L1297.0,855.6 L1299.0,859.0 L1301.0,863.1 L1303.0,867.6 L1305.0,872.4 L1307.0,877.2 L1309.0,881.9 L1311.0,886.1 L1313.0,889.8 L1315.0,892.9 L1317.0,895.2 L1319.0,896.8 L1321.0,897.7 L1323.0,898.0 L1325.0,897.5 L1327.0,896.6 L1329.0,895.1 L1331.0,893.1 L1333.0,890.9 L1335.0,888.5 L1337.0,886.0 L1339.0,883.4 L1341.0,880.8 L1343.0,878.1 L1345.0,875.4 L1347.0,872.8 L1349.0,870.2 L1351.0,867.7 L1353.0,865.2 L1355.0,862.8 L1357.0,860.5 L1359.0,858.4 L1361.0,856.5 L1363.0,854.9 L1365.0,853.7 L1367.0,852.8 L1369.0,852.3 L1371.0,852.3 L1373.0,852.7 L1375.0,853.5 L1377.0,854.9 L1379.0,856.6 L1381.0,858.8 L1383.0,861.3 L1385.0,864.0 L1387.0,866.8 L1389.0,869.7 L1391.0,872.5 L1393.0,875.2 L1395.0,877.9 L1397.0,880.3 L1399.0,882.7 L1401.0,884.8 L1403.0,886.8 L1405.0,888.6 L1407.0,890.3 L1409.0,891.9 L1411.0,893.4 L1413.0,894.9 L1415.0,896.3 L1417.0,897.7 L1419.0,899.1 L1421.0,900.3 L1423.0,901.6 L1425.0,902.7 L1427.0,903.7 L1429.0,904.7 L1431.0,905.5 L1433.0,906.2 L1435.0,906.7 L1437.0,907.2 L1439.0,907.6 L1441.0,907.8 L1443.0,908.0 L1445.0,908.1 L1447.0,908.2 L1449.0,908.2 L1451.0,908.2 L1453.0,908.2 L1455.0,908.3 L1457.0,908.3 L1459.0,908.3 L1461.0,908.3 L1463.0,908.3 L1465.0,908.3 L1467.0,908.3 L1469.0,908.4 L1471.0,908.4 L1473.0,908.4 L1475.0,908.4 L1477.0,908.4 L1479.0,908.4 L1481.0,908.3 L1483.0,908.3 L1485.0,908.3 L1487.0,908.2 L1489.0,908.2 L1491.0,908.2 L1493.0,908.1 L1495.0,908.1 L1497.0,908.1 L1499.0,908.0 L1501.0,908.0 L1503.0,908.0 L1505.0,908.0 L1507.0,908.0 L1509.0,908.0 L1511.0,908.1 L1513.0,908.1 L1515.0,908.2 L1517.0,908.3 L1519.0,908.4 L1521.0,908.4 L1523.0,908.4 L1525.0,908.4 L1527.0,908.4 L1529.0,908.4 L1531.0,908.4 L1533.0,908.4 L1535.0,908.4 L1537.0,908.4 L1539.0,908.4 L1541.0,907.9 L1543.0,907.3 L1545.0,906.7 L1547.0,906.0 L1549.0,905.4 L1551.0,904.7 L1553.0,904.0 L1555.0,903.3 L1557.0,902.6 L1559.0,901.8 L1561.0,901.0 L1563.0,900.2 L1565.0,899.4 L1567.0,898.6 L1569.0,897.8 L1571.0,897.0 L1573.0,896.2 L1575.0,895.4 L1577.0,894.6 L1579.0,893.8 L1581.0,892.9 L1583.0,891.9 L1585.0,890.8 L1587.0,889.5 L1589.0,888.0 L1591.0,886.3 L1593.0,884.5 L1595.0,882.6 L1597.0,880.7 L1599.0,878.8 L1601.0,877.1 L1603.0,875.5 L1605.0,874.2 L1607.0,873.2 L1609.0,872.4 L1611.0,871.9 L1613.0,871.7 L1615.0,871.7 L1617.0,871.9 L1619.0,872.3 L1621.0,872.7 L1623.0,873.3 L1625.0,873.9 L1627.0,874.5 L1629.0,875.2 L1631.0,875.9 L1633.0,876.7 L1635.0,877.5 L1637.0,878.5 L1639.0,879.5 L1641.0,880.5 L1643.0,881.7 L1645.0,882.8 L1647.0,883.8 L1649.0,884.7 L1651.0,885.4 L1653.0,885.7 L1655.0,885.6 L1657.0,885.0 L1659.0,884.0 L1661.0,882.4 L1663.0,880.4 L1665.0,878.0 L1667.0,875.2 L1669.0,872.2 L1671.0,869.0 L1673.0,865.8 L1675.0,862.7 L1677.0,859.8 L1679.0,857.3 L1681.0,855.1 L1683.0,853.3 L1685.0,852.0 L1687.0,851.0 L1689.0,850.2 L1691.0,849.6 L1693.0,849.1" fill="none" stroke="#1f77b4" stroke-width="2.6" stroke-linejoin="round" stroke-linecap="butt"/>
<path d="M209.0,860.5 L211.0,855.0 L213.0,849.4 L215.0,843.9 L217.0,838.3 L219.0,832.9 L221.0,827.8 L223.0,823.0 L225.0,818.6 L227.0,814.4 L229.0,810.8 L231.0,807.8 L233.0,805.9 L235.0,804.8 L237.0,804.4 L239.0,804.2 L241.0,804.3 L243.0,804.7 L245.0,805.4 L247.0,806.2 L249.0,807.2 L251.0,808.4 L253.0,809.6 L255.0,810.6 L257.0,811.4 L259.0,811.6 L261.0,811.0 L263.0,809.4 L265.0,806.7 L267.0,802.9 L269.0,798.4 L271.0,793.5 L273.0,788.9 L275.0,784.8 L277.0,781.9 L279.0,780.4 L281.0,780.9 L283.0,783.7 L285.0,788.9 L287.0,796.2 L289.0,804.9 L291.0,814.1 L293.0,823.0 L295.0,830.9 L297.0,837.5 L299.0,842.5 L301.0,846.1 L303.0,848.1 L305.0,848.9 L307.0,848.5 L309.0,847.1 L311.0,844.9 L313.0,842.2 L315.0,839.4 L317.0,836.6 L319.0,833.9 L321.0,831.5 L323.0,829.3 L325.0,827.4 L327.0,825.5 L329.0,823.7 L331.0,821.8 L333.0,819.8 L335.0,817.6 L337.0,815.4 L339.0,813.3 L341.0,811.2 L343.0,809.4 L345.0,807.9 L347.0,806.8 L349.0,806.2 L351.0,806.2 L353.0,807.0 L355.0,808.7 L357.0,811.3 L359.0,814.5 L361.0,818.1 L363.0,821.9 L365.0,825.8 L367.0,829.5 L369.0,833.1 L371.0,836.5 L373.0,839.6 L375.0,842.4 L377.0,844.7 L379.0,846.5 L381.0,847.7 L383.0,848.2 L385.0,847.9 L387.0,846.6 L389.0,844.3 L391.0,840.9 L393.0,836.5 L395.0,831.0 L397.0,824.5 L399.0,817.0 L401.0,808.7 L403.0,800.4 L405.0,792.9 L407.0,786.9 L409.0,782.4 L411.0,779.2 L413.0,777.1 L415.0,775.8 L417.0,775.2 L419.0,775.0 L421.0,775.1 L423.0,775.4 L425.0,775.7 L427.0,776.1 L429.0,776.6 L431.0,777.3 L433.0,778.4 L435.0,780.0 L437.0,782.1 L439.0,784.9 L441.0,788.3 L443.0,792.0 L445.0,796.0 L447.0,800.1 L449.0,804.2 L451.0,808.3 L453.0,812.1 L455.0,815.3 L457.0,817.2 L459.0,817.9 L461.0,817.8 L463.0,817.1 L465.0,815.9 L467.0,814.3 L469.0,812.3 L471.0,810.1 L473.0,807.7 L475.0,805.1 L477.0,802.3 L479.0,799.3 L481.0,796.3 L483.0,793.4 L485.0,790.9 L487.0,789.0 L489.0,788.1 L491.0,788.5 L493.0,790.5 L495.0,794.3 L497.0,800.2 L499.0,808.2 L501.0,818.5 L503.0,830.4 L505.0,842.6 L507.0,853.9 L509.0,863.6 L511.0,871.1 L513.0,876.4 L515.0,879.7 L517.0,881.4 L519.0,881.8 L521.0,881.3 L523.0,880.0 L525.0,878.0 L527.0,875.7 L529.0,873.2 L531.0,870.8 L533.0,868.9 L535.0,867.6 L537.0,867.1 L539.0,867.5 L541.0,868.7 L543.0,870.6 L545.0,872.8 L547.0,875.3 L549.0,877.6 L551.0,879.5 L553.0,880.8 L555.0,881.3 L557.0,880.8 L559.0,879.1 L561.0,876.3 L563.0,872.2 L565.0,866.9 L567.0,860.7 L569.0,853.9 L571.0,846.9 L573.0,840.0 L575.0,833.7 L577.0,827.7 L579.0,821.8 L581.0,815.6 L583.0,808.5 L585.0,801.4 L587.0,794.9 L589.0,788.8 L591.0,782.8 L593.0,776.4 L595.0,769.5 L597.0,762.1 L599.0,754.3 L601.0,746.3 L603.0,738.1 L605.0,729.6 L607.0,720.5 L609.0,710.7 L611.0,700.5 L613.0,690.9 L615.0,682.6 L617.0,675.9 L619.0,671.2 L621.0,668.4 L623.0,667.4 L625.0,668.2 L627.0,670.9 L629.0,675.2 L631.0,680.6 L633.0,686.3 L635.0,691.6 L637.0,696.1 L639.0,699.3 L641.0,701.5 L643.0,702.6 L645.0,703.0 L647.0,703.1 L649.0,703.5 L651.0,704.6 L653.0,707.2 L655.0,711.3 L657.0,717.1 L659.0,724.3 L661.0,732.7 L663.0,742.4 L665.0,752.9 L667.0,763.8 L669.0,774.5 L671.0,784.4 L673.0,792.8 L675.0,799.3 L677.0,803.5 L679.0,805.0 L681.0,803.6 L683.0,798.8 L685.0,791.1 L687.0,780.9 L689.0,769.4 L691.0,757.3 L693.0,745.3 L695.0,733.8 L697.0,723.0 L699.0,712.9 L701.0,704.0 L703.0,696.6 L705.0,691.1 L707.0,687.5 L709.0,685.6 L711.0,685.1 L713.0,685.6 L715.0,686.9 L717.0,688.8 L719.0,691.0 L721.0,693.4 L723.0,695.7 L725.0,697.7 L727.0,699.3 L729.0,700.6 L731.0,701.4 L733.0,701.8 L735.0,701.8 L737.0,701.6 L739.0,701.0 L741.0,700.1 L743.0,698.9 L745.0,697.5 L747.0,695.8 L749.0,693.8 L751.0,691.6 L753.0,689.0 L755.0,686.0 L757.0,682.9 L759.0,679.6 L761.0,676.2 L763.0,672.7 L765.0,669.1 L767.0,665.5 L769.0,662.1 L771.0,658.7 L773.0,655.4 L775.0,652.0 L777.0,648.4 L779.0,644.4 L781.0,639.8 L783.0,634.4 L785.0,628.1 L787.0,620.8 L789.0,612.4 L791.0,603.2 L793.0,593.5 L795.0,584.2 L797.0,575.9 L799.0,569.1 L801.0,564.3 L803.0,561.5 L805.0,561.0 L807.0,562.8 L809.0,566.5 L811.0,571.9 L813.0,578.4 L815.0,585.5 L817.0,592.4 L819.0,598.7 L821.0,604.1 L823.0,608.8 L825.0,613.2 L827.0,617.4 L829.0,622.0 L831.0,627.4 L833.0,633.9 L835.0,641.9 L837.0,651.5 L839.0,662.7 L841.0,675.2 L843.0,688.7 L845.0,702.7 L847.0,716.8 L849.0,730.4 L851.0,742.5 L853.0,752.8 L855.0,760.9 L857.0,767.2 L859.0,772.0 L861.0,775.7 L863.0,778.6 L865.0,781.2 L867.0,783.9 L869.0,787.2 L871.0,791.7 L873.0,797.5 L875.0,804.6 L877.0,812.5 L879.0,820.9 L881.0,829.6 L883.0,838.3 L885.0,846.7 L887.0,854.4 L889.0,861.0 L891.0,866.1 L893.0,869.6 L895.0,871.4 L897.0,871.3 L899.0,869.1 L901.0,865.1 L903.0,859.5 L905.0,852.8 L907.0,845.3 L909.0,837.4 L911.0,829.7 L913.0,822.2 L915.0,815.0 L917.0,808.5 L919.0,803.5 L921.0,800.3 L923.0,798.9 L925.0,798.9 L927.0,800.0 L929.0,802.0 L931.0,804.5 L933.0,807.0 L935.0,809.4 L937.0,811.4 L939.0,813.0 L941.0,814.0 L943.0,814.7 L945.0,815.1 L947.0,815.6 L949.0,816.3 L951.0,817.4 L953.0,819.2 L955.0,821.6 L957.0,824.6 L959.0,828.1 L961.0,831.9 L963.0,835.8 L965.0,839.5 L967.0,843.0 L969.0,846.0 L971.0,848.5 L973.0,850.3 L975.0,851.5 L977.0,852.0 L979.0,852.1 L981.0,851.7 L983.0,851.0 L985.0,850.0 L987.0,848.8 L989.0,847.8 L991.0,847.0 L993.0,846.5 L995.0,846.6 L997.0,847.3 L999.0,848.7 L1001.0,850.8 L1003.0,853.5 L1005.0,856.8 L1007.0,860.5 L1009.0,864.3 L1011.0,868.0 L1013.0,871.4 L1015.0,874.2 L1017.0,876.4 L1019.0,877.9 L1021.0,878.8 L1023.0,879.2 L1025.0,879.2 L1027.0,878.8 L1029.0,878.2 L1031.0,877.6 L1033.0,877.2 L1035.0,877.2 L1037.0,877.7 L1039.0,878.9 L1041.0,880.6 L1043.0,882.7 L1045.0,884.9 L1047.0,886.9 L1049.0,888.5 L1051.0,889.7 L1053.0,890.3 L1055.0,890.0 L1057.0,888.7 L1059.0,885.9 L1061.0,881.8 L1063.0,876.5 L1065.0,870.4 L1067.0,863.9 L1069.0,857.6 L1071.0,851.7 L1073.0,846.7 L1075.0,842.7 L1077.0,839.8 L1079.0,838.0 L1081.0,837.0 L1083.0,836.7 L1085.0,837.0 L1087.0,837.9 L1089.0,839.1 L1091.0,840.5 L1093.0,841.9 L1095.0,843.0 L1097.0,843.8 L1099.0,844.2 L1101.0,844.1 L1103.0,843.4 L1105.0,842.3 L1107.0,840.8 L1109.0,838.9 L1111.0,836.9 L1113.0,834.9 L1115.0,833.0 L1117.0,831.3 L1119.0,829.8 L1121.0,828.7 L1123.0,827.9 L1125.0,827.4 L1127.0,827.2 L1129.0,827.3 L1131.0,827.7 L1133.0,828.4 L1135.0,829.3 L1137.0,830.5 L1139.0,832.0 L1141.0,833.6 L1143.0,835.4 L1145.0,837.4 L1147.0,839.6 L1149.0,841.7 L1151.0,843.7 L1153.0,845.7 L1155.0,847.5 L1157.0,849.1 L1159.0,850.2 L1161.0,850.7 L1163.0,850.4 L1165.0,849.1 L1167.0,846.6 L1169.0,843.1 L1171.0,838.8 L1173.0,833.8 L1175.0,828.4 L1177.0,822.7 L1179.0,816.7 L1181.0,810.3 L1183.0,804.3 L1185.0,799.7 L1187.0,796.5 L1189.0,794.6 L1191.0,793.8 L1193.0,794.3 L1195.0,796.1 L1197.0,799.6 L1199.0,804.6 L1201.0,810.9 L1203.0,818.4 L1205.0,827.0 L1207.0,836.4 L1209.0,846.0 L1211.0,855.4 L1213.0,863.9 L1215.0,871.3 L1217.0,877.3 L1219.0,881.9 L1221.0,885.1 L1223.0,887.2 L1225.0,888.3 L1227.0,888.9 L1229.0,889.2 L1231.0,889.2 L1233.0,889.2 L1235.0,889.2 L1237.0,889.4 L1239.0,889.6 L1241.0,889.9 L1243.0,890.1 L1245.0,890.1 L1247.0,889.8 L1249.0,889.0 L1251.0,887.8 L1253.0,885.9 L1255.0,883.3 L1257.0,880.1 L1259.0,876.3 L1261.0,871.8 L1263.0,866.9 L1265.0,861.6 L1267.0,855.9 L1269.0,850.0 L1271.0,844.0 L1273.0,838.1 L1275.0,832.3 L1277.0,826.9 L1279.0,821.9 L1281.0,817.5 L1283.0,813.9 L1285.0,811.4 L1287.0,809.9 L1289.0,809.6 L1291.0,810.5 L1293.0,812.8 L1295.0,816.2 L1297.0,820.7 L1299.0,826.4 L1301.0,833.2 L1303.0,840.7 L1305.0,848.7 L1307.0,856.7 L1309.0,864.5 L1311.0,871.6 L1313.0,877.8 L1315.0,882.8 L1317.0,886.4 L1319.0,888.6 L1321.0,889.5 L1323.0,889.4 L1325.0,888.0 L1327.0,885.6 L1329.0,882.2 L1331.0,878.0 L1333.0,873.3 L1335.0,868.3 L1337.0,863.3 L1339.0,858.3 L1341.0,853.4 L1343.0,848.9 L1345.0,844.6 L1347.0,840.6 L1349.0,836.7 L1351.0,832.9 L1353.0,829.2 L1355.0,825.5 L1357.0,821.8 L1359.0,818.3 L1361.0,814.8 L1363.0,811.7 L1365.0,809.0 L1367.0,807.0 L1369.0,805.7 L1371.0,805.1 L1373.0,805.3 L1375.0,806.3 L1377.0,808.2 L1379.0,811.0 L1381.0,814.8 L1383.0,819.6 L1385.0,824.8 L1387.0,830.3 L1389.0,835.6 L1391.0,840.6 L1393.0,845.4 L1395.0,850.1 L1397.0,854.5 L1399.0,858.7 L1401.0,862.7 L1403.0,866.3 L1405.0,869.7 L1407.0,872.9 L1409.0,875.8 L1411.0,878.6 L1413.0,881.3 L1415.0,883.8 L1417.0,886.3 L1419.0,888.8 L1421.0,891.1 L1423.0,893.4 L1425.0,895.5 L1427.0,897.6 L1429.0,899.6 L1431.0,901.4 L1433.0,903.1 L1435.0,904.5 L1437.0,905.7 L1439.0,906.6 L1441.0,907.3 L1443.0,907.7 L1445.0,908.0 L1447.0,908.1 L1449.0,908.2 L1451.0,908.2 L1453.0,908.2 L1455.0,908.3 L1457.0,908.3 L1459.0,908.3 L1461.0,908.3 L1463.0,908.3 L1465.0,908.4 L1467.0,908.4 L1469.0,908.4 L1471.0,908.4 L1473.0,908.4 L1475.0,908.4 L1477.0,908.4 L1479.0,908.4 L1481.0,908.3 L1483.0,908.3 L1485.0,908.3 L1487.0,908.2 L1489.0,908.2 L1491.0,908.1 L1493.0,908.1 L1495.0,908.1 L1497.0,908.0 L1499.0,908.0 L1501.0,908.0 L1503.0,907.9 L1505.0,907.9 L1507.0,907.9 L1509.0,908.0 L1511.0,908.0 L1513.0,908.0 L1515.0,908.1 L1517.0,908.2 L1519.0,908.3 L1521.0,908.4 L1523.0,908.4 L1525.0,908.4 L1527.0,908.4 L1529.0,908.4 L1531.0,908.4 L1533.0,908.4 L1535.0,908.4 L1537.0,908.4 L1539.0,908.4 L1541.0,908.1 L1543.0,907.6 L1545.0,907.0 L1547.0,906.5 L1549.0,906.0 L1551.0,905.5 L1553.0,904.9 L1555.0,904.3 L1557.0,903.6 L1559.0,902.8 L1561.0,902.0 L1563.0,901.2 L1565.0,900.4 L1567.0,899.5 L1569.0,898.7 L1571.0,897.9 L1573.0,897.1 L1575.0,896.3 L1577.0,895.5 L1579.0,894.7 L1581.0,893.8 L1583.0,892.9 L1585.0,891.8 L1587.0,890.5 L1589.0,889.1 L1591.0,887.4 L1593.0,885.6 L1595.0,883.6 L1597.0,881.6 L1599.0,879.5 L1601.0,877.6 L1603.0,875.8 L1605.0,874.4 L1607.0,873.3 L1609.0,872.5 L1611.0,872.1 L1613.0,871.9 L1615.0,872.1 L1617.0,872.4 L1619.0,872.9 L1621.0,873.6 L1623.0,874.3 L1625.0,875.0 L1627.0,875.8 L1629.0,876.6 L1631.0,877.5 L1633.0,878.3 L1635.0,879.1 L1637.0,879.9 L1639.0,880.6 L1641.0,881.4 L1643.0,882.1 L1645.0,882.7 L1647.0,883.1 L1649.0,883.4 L1651.0,883.4 L1653.0,883.0 L1655.0,882.2 L1657.0,881.0 L1659.0,879.3 L1661.0,877.1 L1663.0,874.4 L1665.0,871.3 L1667.0,868.0 L1669.0,864.5 L1671.0,861.0 L1673.0,857.5 L1675.0,854.1 L1677.0,851.1 L1679.0,848.3 L1681.0,845.9 L1683.0,844.0 L1685.0,842.6 L1687.0,841.7 L1689.0,841.1 L1691.0,840.7 L1693.0,840.3" fill="none" stroke="#ff7f0e" stroke-width="2.6" stroke-linejoin="round" stroke-linecap="butt"/>
<path d="M209.0,784.4 L211.0,769.4 L213.0,754.4 L215.0,739.8 L217.0,725.3 L219.0,711.0 L221.0,697.6 L223.0,686.5 L225.0,677.7 L227.0,669.9 L229.0,662.8 L231.0,656.7 L233.0,651.8 L235.0,647.9 L237.0,645.2 L239.0,643.5 L241.0,642.7 L243.0,642.8 L245.0,644.0 L247.0,646.4 L249.0,650.1 L251.0,654.5 L253.0,659.2 L255.0,663.7 L257.0,667.3 L259.0,669.3 L261.0,668.9 L263.0,665.4 L265.0,658.5 L267.0,648.6 L269.0,636.2 L271.0,623.2 L273.0,611.3 L275.0,602.0 L277.0,596.2 L279.0,593.7 L281.0,594.8 L283.0,600.2 L285.0,610.6 L287.0,627.4 L289.0,651.5 L291.0,676.5 L293.0,697.9 L295.0,716.6 L297.0,732.8 L299.0,746.2 L301.0,756.1 L303.0,762.8 L305.0,766.6 L307.0,766.8 L309.0,763.9 L311.0,759.3 L313.0,754.1 L315.0,748.7 L317.0,743.2 L319.0,737.7 L321.0,732.2 L323.0,727.0 L325.0,722.0 L327.0,717.1 L329.0,712.0 L331.0,706.7 L333.0,701.0 L335.0,695.0 L337.0,688.8 L339.0,682.6 L341.0,676.9 L343.0,672.0 L345.0,668.0 L347.0,665.2 L349.0,663.8 L351.0,664.1 L353.0,666.6 L355.0,671.3 L357.0,678.0 L359.0,686.4 L361.0,695.8 L363.0,705.6 L365.0,715.3 L367.0,724.9 L369.0,734.1 L371.0,742.6 L373.0,750.2 L375.0,756.7 L377.0,762.4 L379.0,767.2 L381.0,770.8 L383.0,772.8 L385.0,772.7 L387.0,769.9 L389.0,764.4 L391.0,756.0 L393.0,745.1 L395.0,732.5 L397.0,718.9 L399.0,704.4 L401.0,689.5 L403.0,673.5 L405.0,654.6 L407.0,634.9 L409.0,620.9 L411.0,612.0 L413.0,607.0 L415.0,604.8 L417.0,604.3 L419.0,604.6 L421.0,605.4 L423.0,606.4 L425.0,607.6 L427.0,608.9 L429.0,610.5 L431.0,612.5 L433.0,615.2 L435.0,619.1 L437.0,624.4 L439.0,631.2 L441.0,639.3 L443.0,648.5 L445.0,658.2 L447.0,668.2 L449.0,678.8 L451.0,689.8 L453.0,698.9 L455.0,704.8 L457.0,708.1 L459.0,709.5 L461.0,709.1 L463.0,707.5 L465.0,705.0 L467.0,701.9 L469.0,697.9 L471.0,693.0 L473.0,687.2 L475.0,681.0 L477.0,674.5 L479.0,667.8 L481.0,661.0 L483.0,654.5 L485.0,649.2 L487.0,645.9 L489.0,644.8 L491.0,646.4 L493.0,651.0 L495.0,659.0 L497.0,670.6 L499.0,687.0 L501.0,707.9 L503.0,729.7 L505.0,751.3 L507.0,772.1 L509.0,791.8 L511.0,810.0 L513.0,825.7 L515.0,838.2 L517.0,846.6 L519.0,850.8 L521.0,851.9 L523.0,850.8 L525.0,847.7 L527.0,842.9 L529.0,837.4 L531.0,832.2 L533.0,828.1 L535.0,825.5 L537.0,824.7 L539.0,825.7 L541.0,828.7 L543.0,833.1 L545.0,838.1 L547.0,843.0 L549.0,847.2 L551.0,850.3 L553.0,851.9 L555.0,852.0 L557.0,850.0 L559.0,845.4 L561.0,838.3 L563.0,829.2 L565.0,817.7 L567.0,803.6 L569.0,789.6 L571.0,777.4 L573.0,766.0 L575.0,754.6 L577.0,743.2 L579.0,731.6 L581.0,719.6 L583.0,707.9 L585.0,696.5 L587.0,685.1 L589.0,673.1 L591.0,660.3 L593.0,646.9 L595.0,633.0 L597.0,619.0 L599.0,604.7 L601.0,589.6 L603.0,573.7 L605.0,557.3 L607.0,540.5 L609.0,522.7 L611.0,503.8 L613.0,485.0 L615.0,468.7 L617.0,455.4 L619.0,445.8 L621.0,439.7 L623.0,437.2 L625.0,438.2 L627.0,443.1 L629.0,451.6 L631.0,462.0 L633.0,473.0 L635.0,483.6 L637.0,493.0 L639.0,500.2 L641.0,504.8 L643.0,507.1 L645.0,507.8 L647.0,508.1 L649.0,509.1 L651.0,512.2 L653.0,517.9 L655.0,525.9 L657.0,536.4 L659.0,549.9 L661.0,566.7 L663.0,585.6 L665.0,605.6 L667.0,626.1 L669.0,646.3 L671.0,665.9 L673.0,683.6 L675.0,697.9 L677.0,707.4 L679.0,711.4 L681.0,709.7 L683.0,702.5 L685.0,690.2 L687.0,673.9 L689.0,654.4 L691.0,632.7 L693.0,610.6 L695.0,589.5 L697.0,570.3 L699.0,553.3 L701.0,538.3 L703.0,525.2 L705.0,514.5 L707.0,506.6 L709.0,501.9 L711.0,499.9 L713.0,500.5 L715.0,502.9 L717.0,506.8 L719.0,511.2 L721.0,515.7 L723.0,520.2 L725.0,524.4 L727.0,528.1 L729.0,530.9 L731.0,532.8 L733.0,534.2 L735.0,535.0 L737.0,535.4 L739.0,535.1 L741.0,534.4 L743.0,533.1 L745.0,531.4 L747.0,529.2 L749.0,526.7 L751.0,523.8 L753.0,520.3 L755.0,516.1 L757.0,511.1 L759.0,505.4 L761.0,499.1 L763.0,492.4 L765.0,485.7 L767.0,479.3 L769.0,473.3 L771.0,467.6 L773.0,462.3 L775.0,457.1 L777.0,451.7 L779.0,445.7 L781.0,438.1 L783.0,428.4 L785.0,417.1 L787.0,404.3 L789.0,389.8 L791.0,373.4 L793.0,355.9 L795.0,338.9 L797.0,324.2 L799.0,312.9 L801.0,305.3 L803.0,301.1 L805.0,300.4 L807.0,303.4 L809.0,310.3 L811.0,320.3 L813.0,332.6 L815.0,346.0 L817.0,359.3 L819.0,371.4 L821.0,382.1 L823.0,391.5 L825.0,400.1 L827.0,408.6 L829.0,417.8 L831.0,428.6 L833.0,441.2 L835.0,455.5 L837.0,472.4 L839.0,494.6 L841.0,520.8 L843.0,546.6 L845.0,570.1 L847.0,591.3 L849.0,610.9 L851.0,628.9 L853.0,644.9 L855.0,658.7 L857.0,669.8 L859.0,678.6 L861.0,685.6 L863.0,691.3 L865.0,696.4 L867.0,701.7 L869.0,707.3 L871.0,714.1 L873.0,723.2 L875.0,734.9 L877.0,748.7 L879.0,763.8 L881.0,779.2 L883.0,793.8 L885.0,806.1 L887.0,816.3 L889.0,825.3 L891.0,833.0 L893.0,838.7 L895.0,841.2 L897.0,840.2 L899.0,835.5 L901.0,828.6 L903.0,820.0 L905.0,807.6 L907.0,790.7 L909.0,773.7 L911.0,758.3 L913.0,744.9 L915.0,733.9 L917.0,725.0 L919.0,717.7 L921.0,711.8 L923.0,707.7 L925.0,705.4 L927.0,704.8 L929.0,705.4 L931.0,706.9 L933.0,708.7 L935.0,710.6 L937.0,712.0 L939.0,712.7 L941.0,712.9 L943.0,712.9 L945.0,713.1 L947.0,714.0 L949.0,716.0 L951.0,719.4 L953.0,724.4 L955.0,731.8 L957.0,741.1 L959.0,751.7 L961.0,762.7 L963.0,773.3 L965.0,782.8 L967.0,790.7 L969.0,796.8 L971.0,801.1 L973.0,803.4 L975.0,803.7 L977.0,802.0 L979.0,798.2 L981.0,792.5 L983.0,785.3 L985.0,777.1 L987.0,768.8 L989.0,761.1 L991.0,754.4 L993.0,749.3 L995.0,746.0 L997.0,744.5 L999.0,744.9 L1001.0,747.4 L1003.0,752.4 L1005.0,759.7 L1007.0,768.9 L1009.0,778.8 L1011.0,788.9 L1013.0,798.5 L1015.0,807.1 L1017.0,814.3 L1019.0,819.3 L1021.0,822.3 L1023.0,823.8 L1025.0,824.0 L1027.0,823.3 L1029.0,821.9 L1031.0,820.5 L1033.0,819.7 L1035.0,819.8 L1037.0,821.4 L1039.0,824.5 L1041.0,829.2 L1043.0,834.9 L1045.0,841.1 L1047.0,846.9 L1049.0,851.9 L1051.0,855.4 L1053.0,857.1 L1055.0,856.4 L1057.0,852.6 L1059.0,845.9 L1061.0,837.1 L1063.0,826.4 L1065.0,812.5 L1067.0,795.5 L1069.0,777.1 L1071.0,759.0 L1073.0,743.0 L1075.0,729.7 L1077.0,719.1 L1079.0,711.3 L1081.0,706.4 L1083.0,704.1 L1085.0,704.0 L1087.0,705.9 L1089.0,709.9 L1091.0,714.8 L1093.0,719.9 L1095.0,724.2 L1097.0,727.3 L1099.0,729.1 L1101.0,729.5 L1103.0,728.2 L1105.0,725.6 L1107.0,722.0 L1109.0,717.9 L1111.0,713.4 L1113.0,709.1 L1115.0,705.1 L1117.0,701.6 L1119.0,698.6 L1121.0,696.2 L1123.0,694.4 L1125.0,693.3 L1127.0,693.0 L1129.0,693.5 L1131.0,694.7 L1133.0,696.5 L1135.0,698.9 L1137.0,701.8 L1139.0,705.0 L1141.0,708.6 L1143.0,712.5 L1145.0,717.1 L1147.0,722.5 L1149.0,728.7 L1151.0,735.5 L1153.0,742.2 L1155.0,747.7 L1157.0,751.9 L1159.0,754.7 L1161.0,756.3 L1163.0,756.1 L1165.0,752.9 L1167.0,746.2 L1169.0,737.1 L1171.0,725.4 L1173.0,711.1 L1175.0,696.0 L1177.0,680.7 L1179.0,665.3 L1181.0,650.7 L1183.0,637.4 L1185.0,626.3 L1187.0,617.9 L1189.0,612.7 L1191.0,610.5 L1193.0,610.9 L1195.0,614.6 L1197.0,622.3 L1199.0,633.6 L1201.0,648.6 L1203.0,667.3 L1205.0,690.1 L1207.0,717.8 L1209.0,746.1 L1211.0,769.9 L1213.0,791.0 L1215.0,809.2 L1217.0,824.4 L1219.0,836.9 L1221.0,846.6 L1223.0,853.1 L1225.0,857.2 L1227.0,859.5 L1229.0,860.6 L1231.0,861.1 L1233.0,861.4 L1235.0,861.6 L1237.0,862.1 L1239.0,862.8 L1241.0,863.6 L1243.0,864.4 L1245.0,864.8 L1247.0,864.4 L1249.0,862.9 L1251.0,859.8 L1253.0,855.2 L1255.0,849.2 L1257.0,842.1 L1259.0,834.5 L1261.0,826.5 L1263.0,816.2 L1265.0,802.3 L1267.0,786.8 L1269.0,771.9 L1271.0,758.1 L1273.0,744.7 L1275.0,730.4 L1277.0,714.8 L1279.0,700.0 L1281.0,687.6 L1283.0,677.9 L1285.0,671.1 L1287.0,667.1 L1289.0,666.1 L1291.0,668.0 L1293.0,673.1 L1295.0,681.4 L1297.0,693.2 L1299.0,709.0 L1301.0,727.6 L1303.0,747.7 L1305.0,767.6 L1307.0,786.0 L1309.0,802.8 L1311.0,817.8 L1313.0,831.1 L1315.0,842.9 L1317.0,853.2 L1319.0,860.2 L1321.0,863.6 L1323.0,864.3 L1325.0,862.5 L1327.0,857.8 L1329.0,850.5 L1331.0,841.4 L1333.0,831.9 L1335.0,823.0 L1337.0,814.6 L1339.0,805.7 L1341.0,796.2 L1343.0,786.6 L1345.0,777.0 L1347.0,767.4 L1349.0,757.9 L1351.0,748.4 L1353.0,738.9 L1355.0,729.1 L1357.0,718.6 L1359.0,707.2 L1361.0,697.0 L1363.0,689.3 L1365.0,683.4 L1367.0,678.8 L1369.0,675.8 L1371.0,674.5 L1373.0,675.5 L1375.0,678.6 L1377.0,683.9 L1379.0,691.2 L1381.0,699.9 L1383.0,709.9 L1385.0,720.8 L1387.0,732.3 L1389.0,744.1 L1391.0,755.6 L1393.0,766.4 L1395.0,776.4 L1397.0,786.0 L1399.0,795.4 L1401.0,805.1 L1403.0,815.2 L1405.0,824.4 L1407.0,832.9 L1409.0,840.9 L1411.0,848.3 L1413.0,855.0 L1415.0,861.2 L1417.0,867.1 L1419.0,872.7 L1421.0,878.0 L1423.0,883.0 L1425.0,887.7 L1427.0,892.0 L1429.0,895.8 L1431.0,899.0 L1433.0,901.6 L1435.0,903.7 L1437.0,905.3 L1439.0,906.4 L1441.0,907.1 L1443.0,907.4 L1445.0,907.6 L1447.0,907.8 L1449.0,908.0 L1451.0,908.2 L1453.0,908.3 L1455.0,908.4 L1457.0,908.4 L1459.0,908.4 L1461.0,908.4 L1463.0,908.4 L1465.0,908.4 L1467.0,908.4 L1469.0,908.4 L1471.0,908.4 L1473.0,908.4 L1475.0,908.4 L1477.0,908.4 L1479.0,908.4 L1481.0,908.4 L1483.0,908.3 L1485.0,908.3 L1487.0,908.3 L1489.0,908.2 L1491.0,908.2 L1493.0,908.2 L1495.0,908.2 L1497.0,908.2 L1499.0,908.2 L1501.0,908.3 L1503.0,908.3 L1505.0,908.3 L1507.0,908.3 L1509.0,908.3 L1511.0,908.3 L1513.0,908.3 L1515.0,908.3 L1517.0,908.3 L1519.0,908.3 L1521.0,908.3 L1523.0,908.3 L1525.0,908.2 L1527.0,908.1 L1529.0,907.9 L1531.0,907.6 L1533.0,907.2 L1535.0,906.8 L1537.0,906.3 L1539.0,905.6 L1541.0,904.5 L1543.0,903.1 L1545.0,901.2 L1547.0,898.9 L1549.0,896.1 L1551.0,892.9 L1553.0,889.4 L1555.0,885.5 L1557.0,881.3 L1559.0,876.9 L1561.0,872.4 L1563.0,867.8 L1565.0,863.0 L1567.0,858.3 L1569.0,853.5 L1571.0,848.9 L1573.0,844.5 L1575.0,840.1 L1577.0,835.9 L1579.0,831.7 L1581.0,827.5 L1583.0,823.3 L1585.0,818.8 L1587.0,813.7 L1589.0,807.7 L1591.0,800.8 L1593.0,792.9 L1595.0,784.2 L1597.0,775.1 L1599.0,765.9 L1601.0,757.0 L1603.0,748.9 L1605.0,742.0 L1607.0,736.8 L1609.0,733.2 L1611.0,731.0 L1613.0,730.2 L1615.0,730.7 L1617.0,732.2 L1619.0,734.4 L1621.0,736.8 L1623.0,739.2 L1625.0,741.6 L1627.0,743.9 L1629.0,746.5 L1631.0,749.6 L1633.0,753.4 L1635.0,758.1 L1637.0,763.5 L1639.0,769.4 L1641.0,775.6 L1643.0,781.6 L1645.0,787.1 L1647.0,791.6 L1649.0,794.8 L1651.0,796.8 L1653.0,797.5 L1655.0,796.9 L1657.0,794.8 L1659.0,791.1 L1661.0,785.4 L1663.0,777.7 L1665.0,768.0 L1667.0,756.1 L1669.0,742.3 L1671.0,728.1 L1673.0,713.7 L1675.0,698.8 L1677.0,683.1 L1679.0,667.5 L1681.0,653.3 L1683.0,641.1 L1685.0,631.7 L1687.0,625.0 L1689.0,620.9 L1691.0,618.9 L1693.0,618.0" fill="none" stroke="#000" stroke-width="2.6" stroke-linejoin="round" stroke-linecap="butt"/>
</g>
<g stroke="#000" fill="none">
<line x1="209.0" y1="908.9" x2="209.0" y2="927" stroke-width="4.1"/>
<line x1="456.9" y1="908.9" x2="456.9" y2="927" stroke-width="4.1"/>
<line x1="704.2" y1="908.9" x2="704.2" y2="927" stroke-width="4.1"/>
<line x1="951.6" y1="908.9" x2="951.6" y2="927" stroke-width="4.1"/>
<line x1="1199.0" y1="908.9" x2="1199.0" y2="927" stroke-width="4.1"/>
<line x1="1446.3" y1="908.9" x2="1446.3" y2="927" stroke-width="4.1"/>
<line x1="1693.2" y1="908.9" x2="1693.2" y2="927" stroke-width="4.1"/>
<line x1="333.4" y1="908.9" x2="333.4" y2="919.5" stroke-width="3.1"/>
<line x1="580.8" y1="908.9" x2="580.8" y2="919.5" stroke-width="3.1"/>
<line x1="828.1" y1="908.9" x2="828.1" y2="919.5" stroke-width="3.1"/>
<line x1="1075.5" y1="908.9" x2="1075.5" y2="919.5" stroke-width="3.1"/>
<line x1="1322.9" y1="908.9" x2="1322.9" y2="919.5" stroke-width="3.1"/>
<line x1="1570.2" y1="908.9" x2="1570.2" y2="919.5" stroke-width="3.1"/>
<line x1="209" y1="908.9" x2="192" y2="908.9" stroke-width="4.1"/>
<line x1="209" y1="770.7" x2="192" y2="770.7" stroke-width="4.1"/>
<line x1="209" y1="632.5" x2="192" y2="632.5" stroke-width="4.1"/>
<line x1="209" y1="494.3" x2="192" y2="494.3" stroke-width="4.1"/>
<line x1="209" y1="356.2" x2="192" y2="356.2" stroke-width="4.1"/>
<line x1="209" y1="218.0" x2="192" y2="218.0" stroke-width="4.1"/>
<line x1="209" y1="79.8" x2="192" y2="79.8" stroke-width="4.1"/>
<line x1="209" y1="839.8" x2="198.5" y2="839.8" stroke-width="3.1"/>
<line x1="209" y1="701.6" x2="198.5" y2="701.6" stroke-width="3.1"/>
<line x1="209" y1="563.4" x2="198.5" y2="563.4" stroke-width="3.1"/>
<line x1="209" y1="425.3" x2="198.5" y2="425.3" stroke-width="3.1"/>
<line x1="209" y1="287.1" x2="198.5" y2="287.1" stroke-width="3.1"/>
<line x1="209" y1="148.9" x2="198.5" y2="148.9" stroke-width="3.1"/>
<rect x="209" y="25" width="1484.2" height="883.9" stroke-width="4.1"/>
</g>
<g font-family="'Liberation Serif', 'Times New Roman', serif" font-weight="bold" fill="#000">
<g font-size="41.67px" text-anchor="middle">
<text transform="translate(208.1,972) scale(1,1.04)">-3</text>
<text transform="translate(455.5,972) scale(1,1.04)">-2</text>
<text transform="translate(702.8,972) scale(1,1.04)">-1</text>
<text transform="translate(951.0,972) scale(1,1.04)">0</text>
<text transform="translate(1198.4,972) scale(1,1.04)">1</text>
<text transform="translate(1445.7,972) scale(1,1.04)">2</text>
<text transform="translate(1693.1,972) scale(1,1.04)">3</text>
</g>
<g font-size="41.67px" text-anchor="end">
<text transform="translate(173.8,923.2) scale(1,1.04)">0.0</text>
<text transform="translate(173.8,785.0) scale(1,1.04)">0.5</text>
<text transform="translate(173.8,646.8) scale(1,1.04)">1.0</text>
<text transform="translate(173.8,508.6) scale(1,1.04)">1.5</text>
<text transform="translate(173.8,370.5) scale(1,1.04)">2.0</text>
<text transform="translate(173.8,232.3) scale(1,1.04)">2.5</text>
<text transform="translate(173.8,94.1) scale(1,1.04)">3.0</text>
</g>
<text transform="translate(950.2,1039.5) scale(1,1.04)" font-size="50px" text-anchor="middle">Energy [eV]</text>
<text transform="translate(61.7,468.5) rotate(-90) scale(1,1.04)" font-size="50px" text-anchor="middle">DOS [arb. unit]</text>
<rect x="1441.4" y="46.2" width="231.2" height="189.3" rx="6.5" ry="6.5" fill="#fff" fill-opacity="0.8" stroke="#e0e0e0" stroke-width="4.4"/>
<line x1="1457" y1="77.5" x2="1543.2" y2="77.5" stroke="#1f77b4" stroke-width="2.6"/>
<text transform="translate(1574.2,91.5) scale(1,1.04)" font-size="41.67px">Ge</text>
<line x1="1457" y1="136.5" x2="1543.2" y2="136.5" stroke="#ff7f0e" stroke-width="2.6"/>
<text transform="translate(1574.2,150.5) scale(1,1.04)" font-size="41.67px">S</text>
<line x1="1457" y1="195.5" x2="1543.2" y2="195.5" stroke="#000" stroke-width="2.6"/>
<text transform="translate(1574.2,209.5) scale(1,1.04)" font-size="41.67px">total</text>
</g>
</svg>
</body></html>
